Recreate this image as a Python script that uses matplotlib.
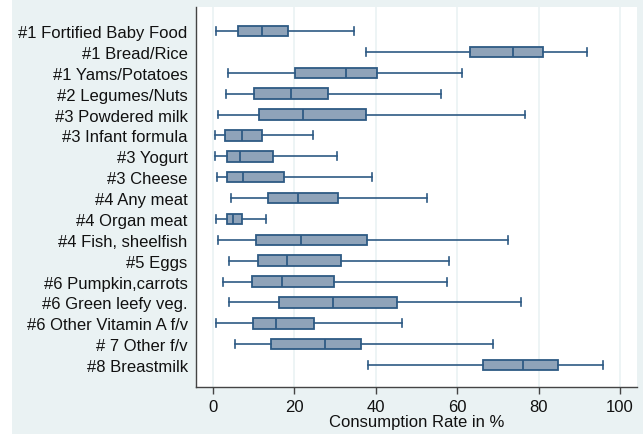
import matplotlib.pyplot as plt
from matplotlib.patches import Rectangle

# categories (top to bottom)
foods = ['#1 Fortified Baby Food', '#1 Bread/Rice', '#1 Yams/Potatoes', '#2 Legumes/Nuts',
         '#3 Powdered milk', '#3 Infant formula', '#3 Yogurt', '#3 Cheese', '#4 Any meat',
         '#4 Organ meat', '#4 Fish, sheelfish', '#5 Eggs', '#6 Pumpkin,carrots',
         '#6 Green leefy veg.', '#6 Other Vitamin A f/v', '# 7 Other f/v', '#8 Breastmilk']

# box statistics (% consumption rate)
whislo = [0.8, 37.5, 3.6, 3.2, 1.1, 0.4, 0.5, 0.9, 4.3, 0.8, 1.2, 4.0, 2.4, 4.0, 0.7, 5.3, 38.0]
q1 = [6.2, 63.1, 20.1, 10.1, 11.3, 3.0, 3.4, 3.3, 13.4, 3.3, 10.6, 11.1, 9.5, 16.1, 9.7, 14.3, 66.3]
med = [12.1, 73.8, 32.6, 19.1, 22.2, 7.0, 6.5, 7.4, 20.9, 5.0, 21.6, 18.2, 17.0, 29.5, 15.5, 27.4, 76.2]
q3 = [18.5, 81.1, 40.4, 28.2, 37.7, 12.1, 14.8, 17.4, 30.7, 7.0, 37.9, 31.4, 29.8, 45.2, 24.9, 36.4, 84.7]
whishi = [34.7, 91.8, 61.1, 56.0, 76.6, 24.5, 30.5, 39.1, 52.6, 13.0, 72.4, 58.0, 57.6, 75.8, 46.5, 68.8, 95.9]

xticks = [0, 20, 40, 60, 80, 100]

bg = '#EAF2F3'
edge = '#2E5A84'
fill = '#8FA3B9'

plt.rcParams['font.family'] = ['Liberation Sans', 'DejaVu Sans']

fig = plt.figure(figsize=(6.43, 4.35), dpi=100, facecolor=bg)
fig.patches.append(Rectangle((0, 0), 12 / 643, 1, transform=fig.transFigure,
                             facecolor='white', edgecolor='none', zorder=0))
ax = fig.add_axes([196 / 643, 1 - 388 / 435, 441 / 643, 380 / 435])

stats = []
for i in range(len(foods)):
    stats.append({'whislo': whislo[i], 'q1': q1[i], 'med': med[i], 'q3': q3[i],
                  'whishi': whishi[i], 'fliers': [], 'label': foods[i]})

ax.bxp(stats, positions=range(len(foods)), vert=False, widths=0.5, patch_artist=True,
       showfliers=False, capwidths=0.38,
       boxprops=dict(facecolor=fill, edgecolor=edge, linewidth=1.3),
       medianprops=dict(color=edge, linewidth=1.3),
       whiskerprops=dict(color=edge, linewidth=1.2),
       capprops=dict(color=edge, linewidth=1.2))

ax.set_xlim(-4.2, 104.2)
ax.set_ylim(len(foods) - 1 + 1.05, -1.15)
ax.set_xticks(xticks)
ax.set_xticklabels([str(t) for t in xticks])
ax.set_yticks(range(len(foods)))
ax.set_yticklabels(foods)
ax.tick_params(axis='y', length=0, pad=6, labelsize=12, colors='#111111')
ax.tick_params(axis='x', length=5, width=1, color='#444444', pad=4, labelsize=12,
               labelcolor='#111111')
ax.xaxis.grid(True, color=bg, linewidth=1.2)
ax.set_axisbelow(True)
for s in ['top', 'right']:
    ax.spines[s].set_visible(False)
for s in ['left', 'bottom']:
    ax.spines[s].set_color('#444444')
    ax.spines[s].set_linewidth(1)
ax.set_xlabel('Consumption Rate in %', fontsize=12, labelpad=0, color='#111111')

fig.savefig('out.png', dpi=100, facecolor=bg)
